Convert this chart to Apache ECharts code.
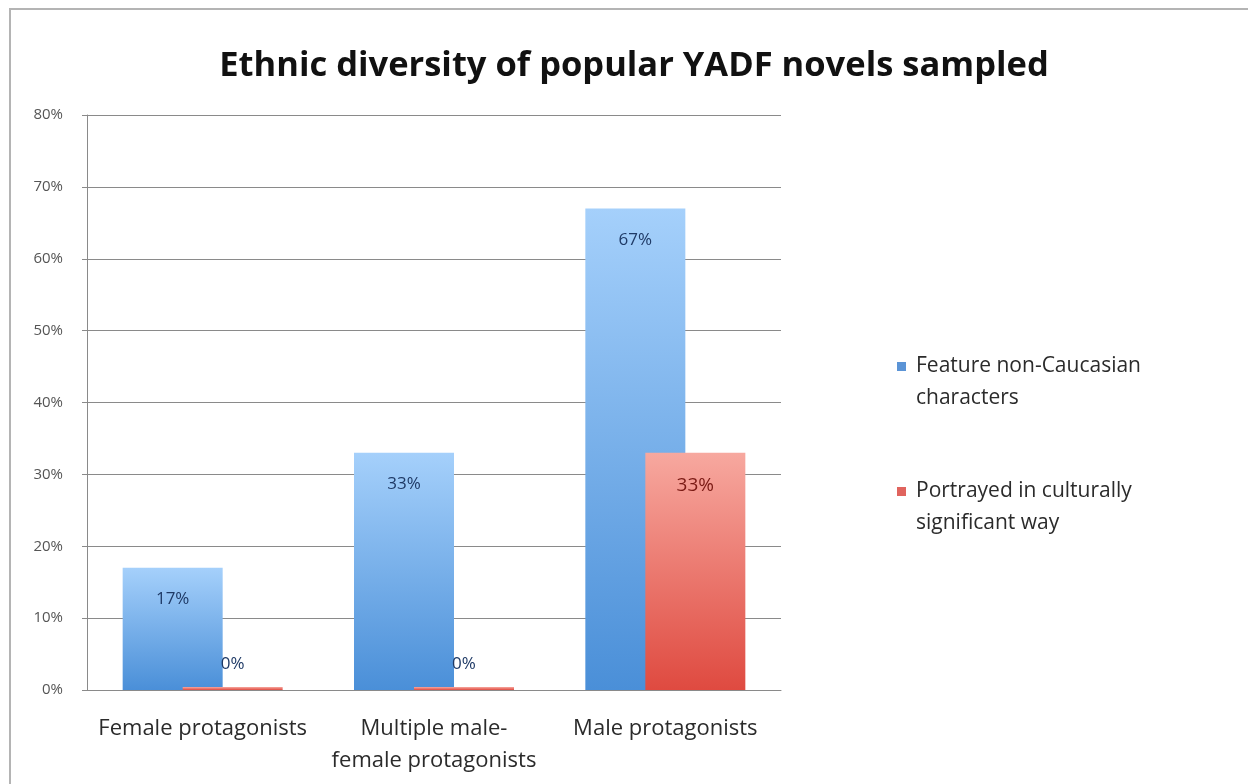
<!DOCTYPE html>
<html>
<head>
<meta charset="utf-8">
<script src="https://cdn.jsdelivr.net/npm/echarts@6/dist/echarts.min.js"></script>
<style>
  html, body { margin: 0; padding: 0; background: #fff; }
  #frame { position: absolute; left: 9px; top: 8px; width: 1250px; height: 790px; border: 2px solid #b4b4b4; box-sizing: border-box; }
  #chart { position: absolute; left: 0; top: 0; width: 1248px; height: 784px; }
</style>
</head>
<body>
<div id="frame"></div>
<div id="chart"></div>
<script>
const categories = ['Female protagonists', 'Multiple male-\nfemale protagonists', 'Male protagonists'];
const featureNonCaucasian = [17, 33, 67];
const culturallySignificant = [0, 0, 33];
const yTicks = [0, 10, 20, 30, 40, 50, 60, 70, 80];

const chart = echarts.init(document.getElementById('chart'));

function grad(top, bottom) {
  return new echarts.graphic.LinearGradient(0, 0, 0, 1, [
    { offset: 0, color: top },
    { offset: 1, color: bottom }
  ]);
}

function toItems(values, labelColor, size) {
  return values.map(function (v) {
    return {
      value: v,
      label: {
        position: v === 0 ? 'top' : 'insideTop',
        distance: v === 0 ? 14 : 23,
        fontSize: v === 0 ? 17 : size,
        color: v === 0 ? '#1f3a66' : labelColor
      }
    };
  });
}

// legend lines: square sits on the first line, like the original
const legendText = {
  'Feature non-Caucasian characters': '{blue|}{gap|}{t|Feature non-Caucasian}\n{sp|}{t|characters}',
  'Portrayed in culturally significant way': '{red|}{gap|}{t|Portrayed in culturally}\n{sp|}{t|significant way}'
};

const option = {
  animation: false,
  title: {
    text: 'Ethnic diversity of popular YADF novels sampled',
    left: 629,
    top: 44,
    textAlign: 'center',
    textStyle: { fontFamily: 'Open Sans', fontWeight: 'bold', fontSize: 34.5, color: '#111' }
  },
  legend: {
    orient: 'vertical',
    left: 887,
    top: 351,
    itemGap: 72,
    itemWidth: 0,
    itemHeight: 0,
    formatter: function (name) { return legendText[name]; },
    textStyle: {
      rich: {
        t: { fontFamily: 'Open Sans', fontSize: 21, color: '#2b2b2b', lineHeight: 32 },
        blue: { width: 9, height: 9, backgroundColor: '#5b94d6' },
        red: { width: 9, height: 9, backgroundColor: '#e0645e' },
        gap: { width: 10, height: 9 },
        sp: { width: 19, height: 9 }
      }
    },
    data: [
      { name: 'Feature non-Caucasian characters' },
      { name: 'Portrayed in culturally significant way' }
    ]
  },
  grid: { left: 87, top: 115, width: 694, height: 575 },
  xAxis: {
    type: 'category',
    data: categories,
    axisLine: { lineStyle: { color: '#8a8a8a', width: 1 } },
    axisTick: { show: false },
    axisLabel: { fontFamily: 'Open Sans', fontSize: 22, color: '#2b2b2b', margin: 23, lineHeight: 32, interval: 0 }
  },
  yAxis: {
    type: 'value',
    min: yTicks[0],
    max: yTicks[yTicks.length - 1],
    interval: 10,
    axisLine: { show: true, lineStyle: { color: '#8a8a8a' } },
    axisTick: { show: true, length: 5, lineStyle: { color: '#8a8a8a' } },
    splitLine: { lineStyle: { color: '#8a8a8a', width: 1 } },
    axisLabel: { fontFamily: 'Open Sans', fontSize: 15, color: '#555', margin: 24, formatter: '{value}%' }
  },
  series: [
    {
      name: 'Feature non-Caucasian characters',
      type: 'bar',
      barWidth: 100,
      barGap: '-40%',
      z: 2,
      itemStyle: { color: grad('#a5d0fb', '#4a8fd8') },
      label: { show: true, formatter: '{c}%', fontFamily: 'Open Sans' },
      data: toItems(featureNonCaucasian, '#1f3a66', 17)
    },
    {
      name: 'Portrayed in culturally significant way',
      type: 'bar',
      barWidth: 100,
      barMinHeight: 3,
      z: 3,
      itemStyle: { color: grad('#f7a89f', '#df4a40') },
      label: { show: true, formatter: '{c}%', fontFamily: 'Open Sans' },
      data: toItems(culturallySignificant, '#7a1a14', 19)
    }
  ]
};

chart.setOption(option);
</script>
</body>
</html>
